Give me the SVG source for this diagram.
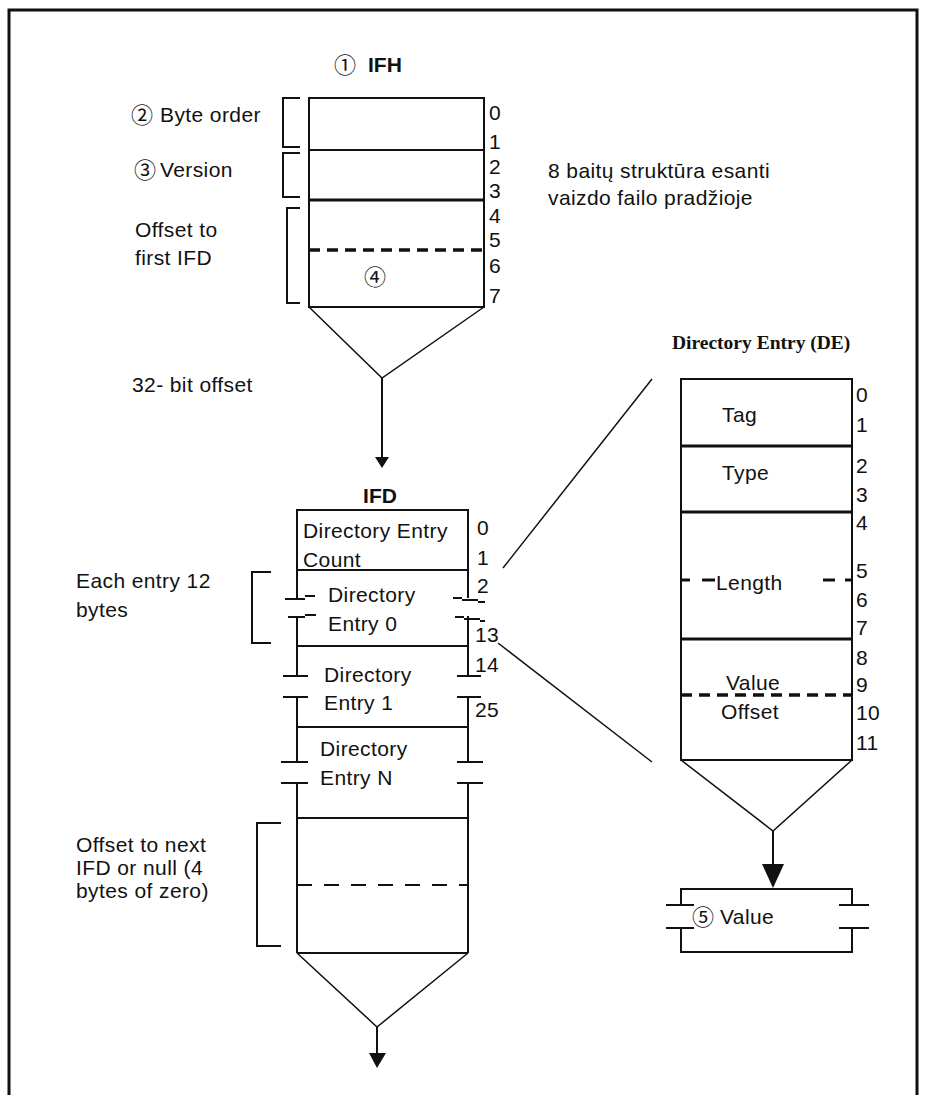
<svg xmlns="http://www.w3.org/2000/svg" width="927" height="1095" viewBox="0 0 927 1095">
<style>
text{font-family:"Liberation Sans","Noto Sans CJK JP",sans-serif;font-size:21px;fill:#111;letter-spacing:0.4px}
.c{font-family:"Noto Sans CJK JP","DejaVu Sans",sans-serif;font-size:22px;letter-spacing:0}
.b{font-weight:bold;letter-spacing:0}
.s{font-family:"Liberation Serif",serif;font-weight:bold;font-size:19.5px;letter-spacing:0}
.ln{stroke:#111;stroke-width:2;fill:none}
.tk{stroke:#111;stroke-width:3;fill:none}
.th{stroke:#111;stroke-width:1.5;fill:none}
.d1{stroke:#111;stroke-width:3.5;fill:none;stroke-dasharray:11 7}
.d2{stroke:#111;stroke-width:2;fill:none;stroke-dasharray:15 12}
.ah{fill:#111}
</style>
<rect x="0" y="0" width="927" height="1095" fill="#fff"/>
<path d="M9,1100 V10 H917 V1100" stroke="#111" stroke-width="3" fill="none"/>

<g id="ifh">
<text class="c" x="334" y="73">①</text>
<text class="b" x="368" y="72">IFH</text>
<rect x="309" y="98" width="175" height="209" class="ln"/>
<line x1="309" y1="150" x2="484" y2="150" class="ln"/>
<line x1="309" y1="200" x2="484" y2="200" class="tk"/>
<line x1="309" y1="250" x2="484" y2="250" class="d1"/>
<text class="c" x="364" y="285">④</text>
<text x="489" y="120">0</text>
<text x="489" y="149">1</text>
<text x="489" y="174">2</text>
<text x="489" y="198">3</text>
<text x="489" y="223">4</text>
<text x="489" y="247">5</text>
<text x="489" y="273">6</text>
<text x="489" y="303">7</text>
<path d="M300,98 H283 V147 H300" class="ln"/>
<path d="M300,153 H283 V197 H300" class="ln"/>
<path d="M300,208 H287 V303 H300" class="ln"/>
<text class="c" x="131" y="123">②</text>
<text x="160" y="122">Byte order</text>
<text class="c" x="134" y="178">③</text>
<text x="160" y="177">Version</text>
<text x="135" y="237">Offset to</text>
<text x="135" y="265">first IFD</text>
<text x="548" y="178">8 baitų struktūra esanti</text>
<text x="548" y="205">vaizdo failo pradžioje</text>
</g>

<g id="ifd">
<text class="b" x="380" y="503" text-anchor="middle">IFD</text>
<path d="M297,598 V510 H468 V598" class="ln"/>
<line x1="297" y1="570" x2="468" y2="570" class="ln"/>
<path d="M297,616 V676 M297,697 V762 M297,783 V953 M468,616 V676 M468,697 V762 M468,783 V953" class="ln"/>
<line x1="297" y1="646" x2="468" y2="646" class="ln"/>
<line x1="297" y1="727" x2="468" y2="727" class="ln"/>
<line x1="297" y1="818" x2="468" y2="818" class="ln"/>
<line x1="297" y1="953" x2="468" y2="953" class="ln"/>
<line x1="297" y1="885" x2="468" y2="885" class="d2"/>
<path d="M285,599 H305 M305,596 H315" class="ln"/>
<path d="M288,617 H305 M305,615 H316" class="ln"/>
<path d="M453,598 H462 M462,600 H478 M478,602 H485" class="ln"/>
<path d="M455,617 H464 M464,619 H480 M480,621 H485" class="ln"/>
<path d="M283,676 H308 M283,697 H308 M281,762 H308 M281,783 H308" class="ln"/>
<path d="M457,676 H481 M457,697 H481 M457,762 H483 M457,783 H483" class="ln"/>
<text x="303" y="538">Directory Entry</text>
<text x="303" y="567">Count</text>
<text x="328" y="602">Directory</text>
<text x="328" y="631">Entry 0</text>
<text x="324" y="682">Directory</text>
<text x="324" y="710">Entry 1</text>
<text x="320" y="756">Directory</text>
<text x="320" y="785">Entry N</text>
<text x="477" y="535">0</text>
<text x="477" y="565">1</text>
<text x="477" y="593">2</text>
<text x="475" y="642">13</text>
<text x="475" y="672">14</text>
<text x="475" y="717">25</text>
<path d="M271,572 H252 V643 H271" class="ln"/>
<path d="M281,823 H257 V946 H281" class="ln"/>
<text x="76" y="588">Each entry 12</text>
<text x="76" y="617">bytes</text>
<text x="76" y="852">Offset to next</text>
<text x="76" y="875">IFD or null (4</text>
<text x="76" y="898">bytes of zero)</text>
</g>

<g id="de">
<text class="s" x="672" y="349">Directory Entry (DE)</text>
<rect x="681" y="379" width="171" height="381" class="ln"/>
<line x1="681" y1="446" x2="852" y2="446" class="tk"/>
<line x1="681" y1="512" x2="852" y2="512" class="tk"/>
<line x1="681" y1="639" x2="852" y2="639" class="tk"/>
<path d="M681,580 H690 M702,580 H715 M823,580 H835 M845,580 H852" class="tk"/>
<line x1="681" y1="695" x2="852" y2="695" class="d1"/>
<text x="722" y="422">Tag</text>
<text x="722" y="480">Type</text>
<text x="716" y="590">Length</text>
<text x="726" y="690">Value</text>
<text x="721" y="719">Offset</text>
<text x="856" y="402">0</text>
<text x="856" y="432">1</text>
<text x="856" y="473">2</text>
<text x="856" y="502">3</text>
<text x="856" y="530">4</text>
<text x="856" y="578">5</text>
<text x="856" y="607">6</text>
<text x="856" y="635">7</text>
<text x="856" y="665">8</text>
<text x="856" y="692">9</text>
<text x="856" y="720">10</text>
<text x="856" y="750">11</text>
</g>

<g id="value">
<path d="M681,905 V889 H852 V905 M681,928 V952 H852 V928" class="ln"/>
<path d="M666,905 H694 M666,928 H694 M839,905 H869 M839,928 H869" class="ln"/>
<text class="c" x="692" y="925">⑤</text>
<text x="720" y="924">Value</text>
</g>

<g id="connectors">
<path d="M309,307 L382,378 L484,307" class="th"/>
<line x1="382" y1="378" x2="382" y2="458" class="ln"/>
<polygon points="375,457 389,457 382,468" class="ah"/>
<text x="132" y="392">32- bit offset</text>
<path d="M297,953 L377,1027 L468,953" class="th"/>
<line x1="377" y1="1027" x2="377" y2="1055" class="ln"/>
<polygon points="369,1053 386,1053 377,1068" class="ah"/>
<path d="M681,760 L773,831 L852,760" class="th"/>
<line x1="773" y1="831" x2="773" y2="866" class="ln"/>
<polygon points="762,864 784,864 773,888" class="ah"/>
<line x1="503" y1="568" x2="652" y2="379" class="th"/>
<line x1="498" y1="643" x2="652" y2="762" class="th"/>
</g>
</svg>
